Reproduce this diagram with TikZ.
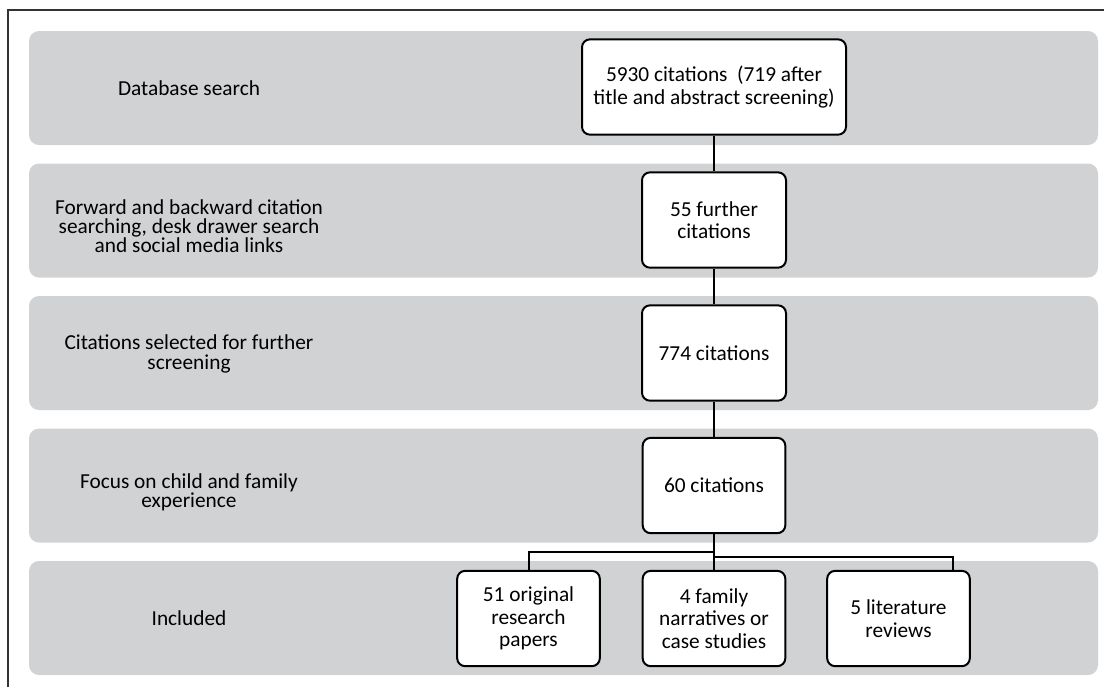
\documentclass[tikz,border=0pt]{standalone}
\usepackage{fontspec}
\setmainfont{Carlito}
\usepackage{xcolor}
\definecolor{bandgray}{RGB}{209,210,212}

\begin{document}
\begin{tikzpicture}[x=0.75pt, y=-0.75pt,
	band/.style={fill=bandgray, rounded corners=7.5pt},
	stage/.style={align=center, font=\fontsize{16}{14.5}\selectfont},
	count/.style={draw, line width=1.5pt, fill=white, rounded corners=6pt, align=center,
		minimum height=71.5pt, inner sep=0pt, font=\fontsize{16}{17}\selectfont},
	link/.style={line width=1.5pt}]
	\useasboundingbox (0,0) rectangle (1104,687);
	\draw [line width=1.2pt, black!80] (8,687) -- (8,10) -- (1104,10);
	\foreach \i in {0,1,...,4}{
		\fill [band] (29,31+132.5*\i) rectangle (1098,145+132.5*\i);
	}
	\node [stage] (db) at (189,88) {Database search};
	\node [stage] (fwd) at (189,226) {Forward and backward citation\\searching, desk drawer search\\and social media links};
	\node [stage] (sel) at (189,354) {Citations selected for further\\screening};
	\node [stage] (foc) at (189,492) {Focus on child and family\\experience};
	\node [stage] (inc) at (189,618) {Included};
	\node [count, minimum width=198pt] (c1) at (714,87) {5930 citations\ \ (719 after\\title and abstract screening)};
	\node [count, minimum width=108pt] (c2) at (714,220) {55 further\\citations};
	\node [count, minimum width=108pt] (c3) at (714,353) {774 citations};
	\node [count, minimum width=107pt] (c4) at (714,485.5) {60 citations};
	\node [count, minimum width=107pt] (r1) at (528.5,618.5) {51 original\\research\\papers};
	\node [count, minimum width=107pt] (r2) at (714,618.5) {4 family\\narratives or\\case studies};
	\node [count, minimum width=107pt] (r3) at (898.5,618.5) {5 literature\\reviews};
	\draw [link] (c1) -- (c2);
	\draw [link] (c2) -- (c3);
	\draw [link] (c3) -- (c4);
	\draw [link] (c4) -- (r2);
	\coordinate (jl) at (714,552);
	\coordinate (jr) at (714,557);
	\coordinate (tr) at ([xshift=40.9pt]r3.north);
	\draw [link] (jl) -| (r1);
	\draw [link] (jr) -| (tr);
\end{tikzpicture}
\end{document}
